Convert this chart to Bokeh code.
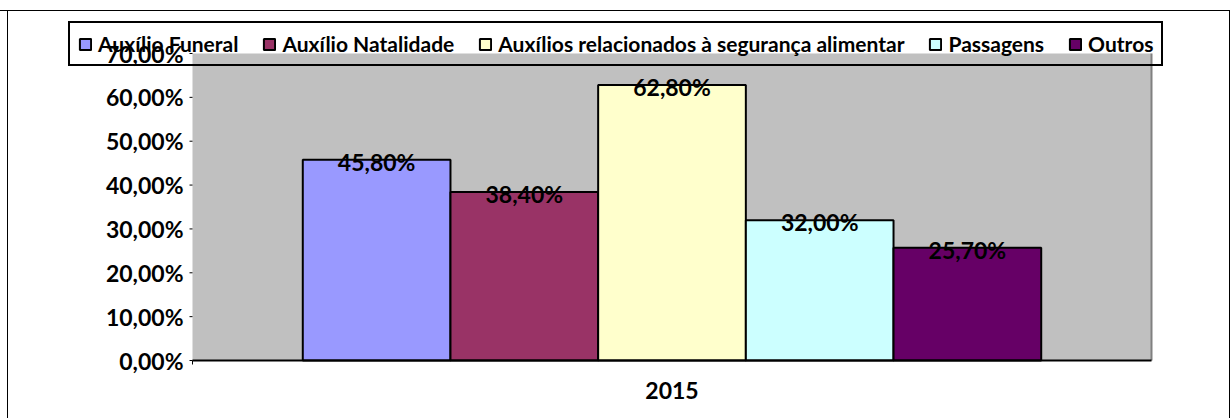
import numpy as np
from bokeh.plotting import figure
from bokeh.models import (ColumnDataSource, Legend, LegendItem, Range1d,
                          FixedTicker, BoxAnnotation)
from bokeh.core.properties import value
from bokeh.embed import file_html
from bokeh.resources import INLINE

# ---- data ----
years = ["2015"]
series = ["Auxílio Funeral", "Auxílio Natalidade",
          "Auxílios relacionados à segurança alimentar", "Passagens", "Outros"]
values_2015 = [45.8, 38.4, 62.8, 32.0, 25.7]
colors = ["#9999FF", "#993366", "#FFFFCC", "#CCFFFF", "#660066"]
y_ticks = [0, 10, 20, 30, 40, 50, 60, 70]
y_tick_labels = ["0,00%", "10,00%", "20,00%", "30,00%", "40,00%",
                 "50,00%", "60,00%", "70,00%"]

# ---- layout constants (pixels) ----
W, H = 1230, 418
PLOT_L, PLOT_R, PLOT_T, PLOT_B = 192, 1151, 53, 360
FRAME_B = 376
FONT = "Lato"
FSIZE = "23px"

y_max = y_ticks[-1]
ppu = (PLOT_B - PLOT_T) / y_max
x_start = -PLOT_L / (PLOT_R - PLOT_L)
x_end = (W - PLOT_L) / (PLOT_R - PLOT_L)
y_start = -(FRAME_B - PLOT_B) / ppu
y_end = PLOT_B / ppu

p = figure(x_range=Range1d(x_start, x_end), y_range=Range1d(y_start, y_end),
           frame_width=W, frame_height=FRAME_B,
           min_border_left=0, min_border_right=0,
           min_border_top=0, min_border_bottom=H - FRAME_B,
           output_backend="svg", toolbar_location=None)
p.yaxis.visible = False
p.background_fill_color = None
p.border_fill_color = None
p.outline_line_color = None
p.xgrid.grid_line_color = None
p.ygrid.grid_line_color = None
p.styles = {
    "background": ("linear-gradient(#000,#000) left 0px top 10px / 100% 1px no-repeat, "
                   "linear-gradient(#000,#000) left 7px top 10px / 1px 100% no-repeat, "
                   "linear-gradient(#000,#000) right 0px top 10px / 1px 100% no-repeat, "
                   "#ffffff"),
}

# plot area (grey) spanning the value axis 0..max over the category axis 0..1
p.add_layout(BoxAnnotation(left=0, right=1, bottom=0, top=y_max,
                           fill_color="#C0C0C0", fill_alpha=1,
                           line_color=None, level="underlay"))
p.segment(x0=[1], y0=[0], x1=[1], y1=[y_max], line_color="#808080",
          line_width=2)

# bars
n = len(series)
bar_w = 0.154
centers = [(k + 0.5) / len(years) for k in range(len(years))]
items = []
label_src = {"x": [], "y": [], "t": []}
for i, name in enumerate(series):
    off = (i - (n - 1) / 2) * bar_w
    xs = [c + off for c in centers]
    src = ColumnDataSource(dict(x=xs, top=[values_2015[i]]))
    r = p.vbar(x="x", top="top", width=bar_w, source=src,
               fill_color=colors[i], line_color="black", line_width=2)
    items.append(LegendItem(label=name, renderers=[r]))
    label_src["x"] += xs
    label_src["y"].append(values_2015[i])
    label_src["t"].append(f"{values_2015[i]:.2f}".replace(".", ",") + "%")

p.text(x="x", y="y", text="t", source=ColumnDataSource(label_src),
       text_align="center", text_baseline="middle", y_offset=2,
       text_font=value(FONT), text_font_style="bold", text_font_size=FSIZE,
       text_color="black")

# category axis line at value 0
p.segment(x0=[0], y0=[0], x1=[1], y1=[0], line_color="black", line_width=2)
p.ray(x=[0], y=[0], length=4, length_units="screen", angle=-np.pi / 2,
      line_color="black", line_width=1)

# value axis: ticks and labels at the left edge of the plot area
ysrc = ColumnDataSource(dict(x=[0] * len(y_ticks), y=y_ticks, t=y_tick_labels))
p.ray(x="x", y="y", length=3, length_units="screen", angle=np.pi,
      source=ysrc, line_color="black", line_width=1)
p.text(x="x", y="y", text="t", source=ysrc, x_offset=-9,
       text_align="right", text_baseline="middle", text_font=value(FONT),
       text_font_style="bold", text_font_size=FSIZE, text_color="black")

# category labels
p.xaxis.bounds = (0, 1)
p.xaxis.ticker = FixedTicker(ticks=centers)
p.xaxis.major_label_overrides = {c: y for c, y in zip(centers, years)}
p.xaxis.axis_line_color = None
p.xaxis.major_tick_line_color = None
p.xaxis.minor_tick_line_color = None
p.xaxis.major_label_standoff = -1
p.xaxis.major_label_text_font = FONT
p.xaxis.major_label_text_font_style = "bold"
p.xaxis.major_label_text_font_size = FSIZE
p.xaxis.major_label_text_color = "black"

legend = Legend(items=items, orientation="horizontal",
                location=(68, FRAME_B - 66),
                border_line_color="black", border_line_width=2,
                border_line_alpha=1,
                background_fill_alpha=0, label_text_font=FONT,
                label_text_font_size="21px", label_text_font_style="bold",
                label_text_color="black",
                glyph_width=14, glyph_height=14, label_standoff=6,
                spacing=24, padding=8, margin=0)
p.add_layout(legend, "center")

open("out.html", "w").write(file_html(p, INLINE))
